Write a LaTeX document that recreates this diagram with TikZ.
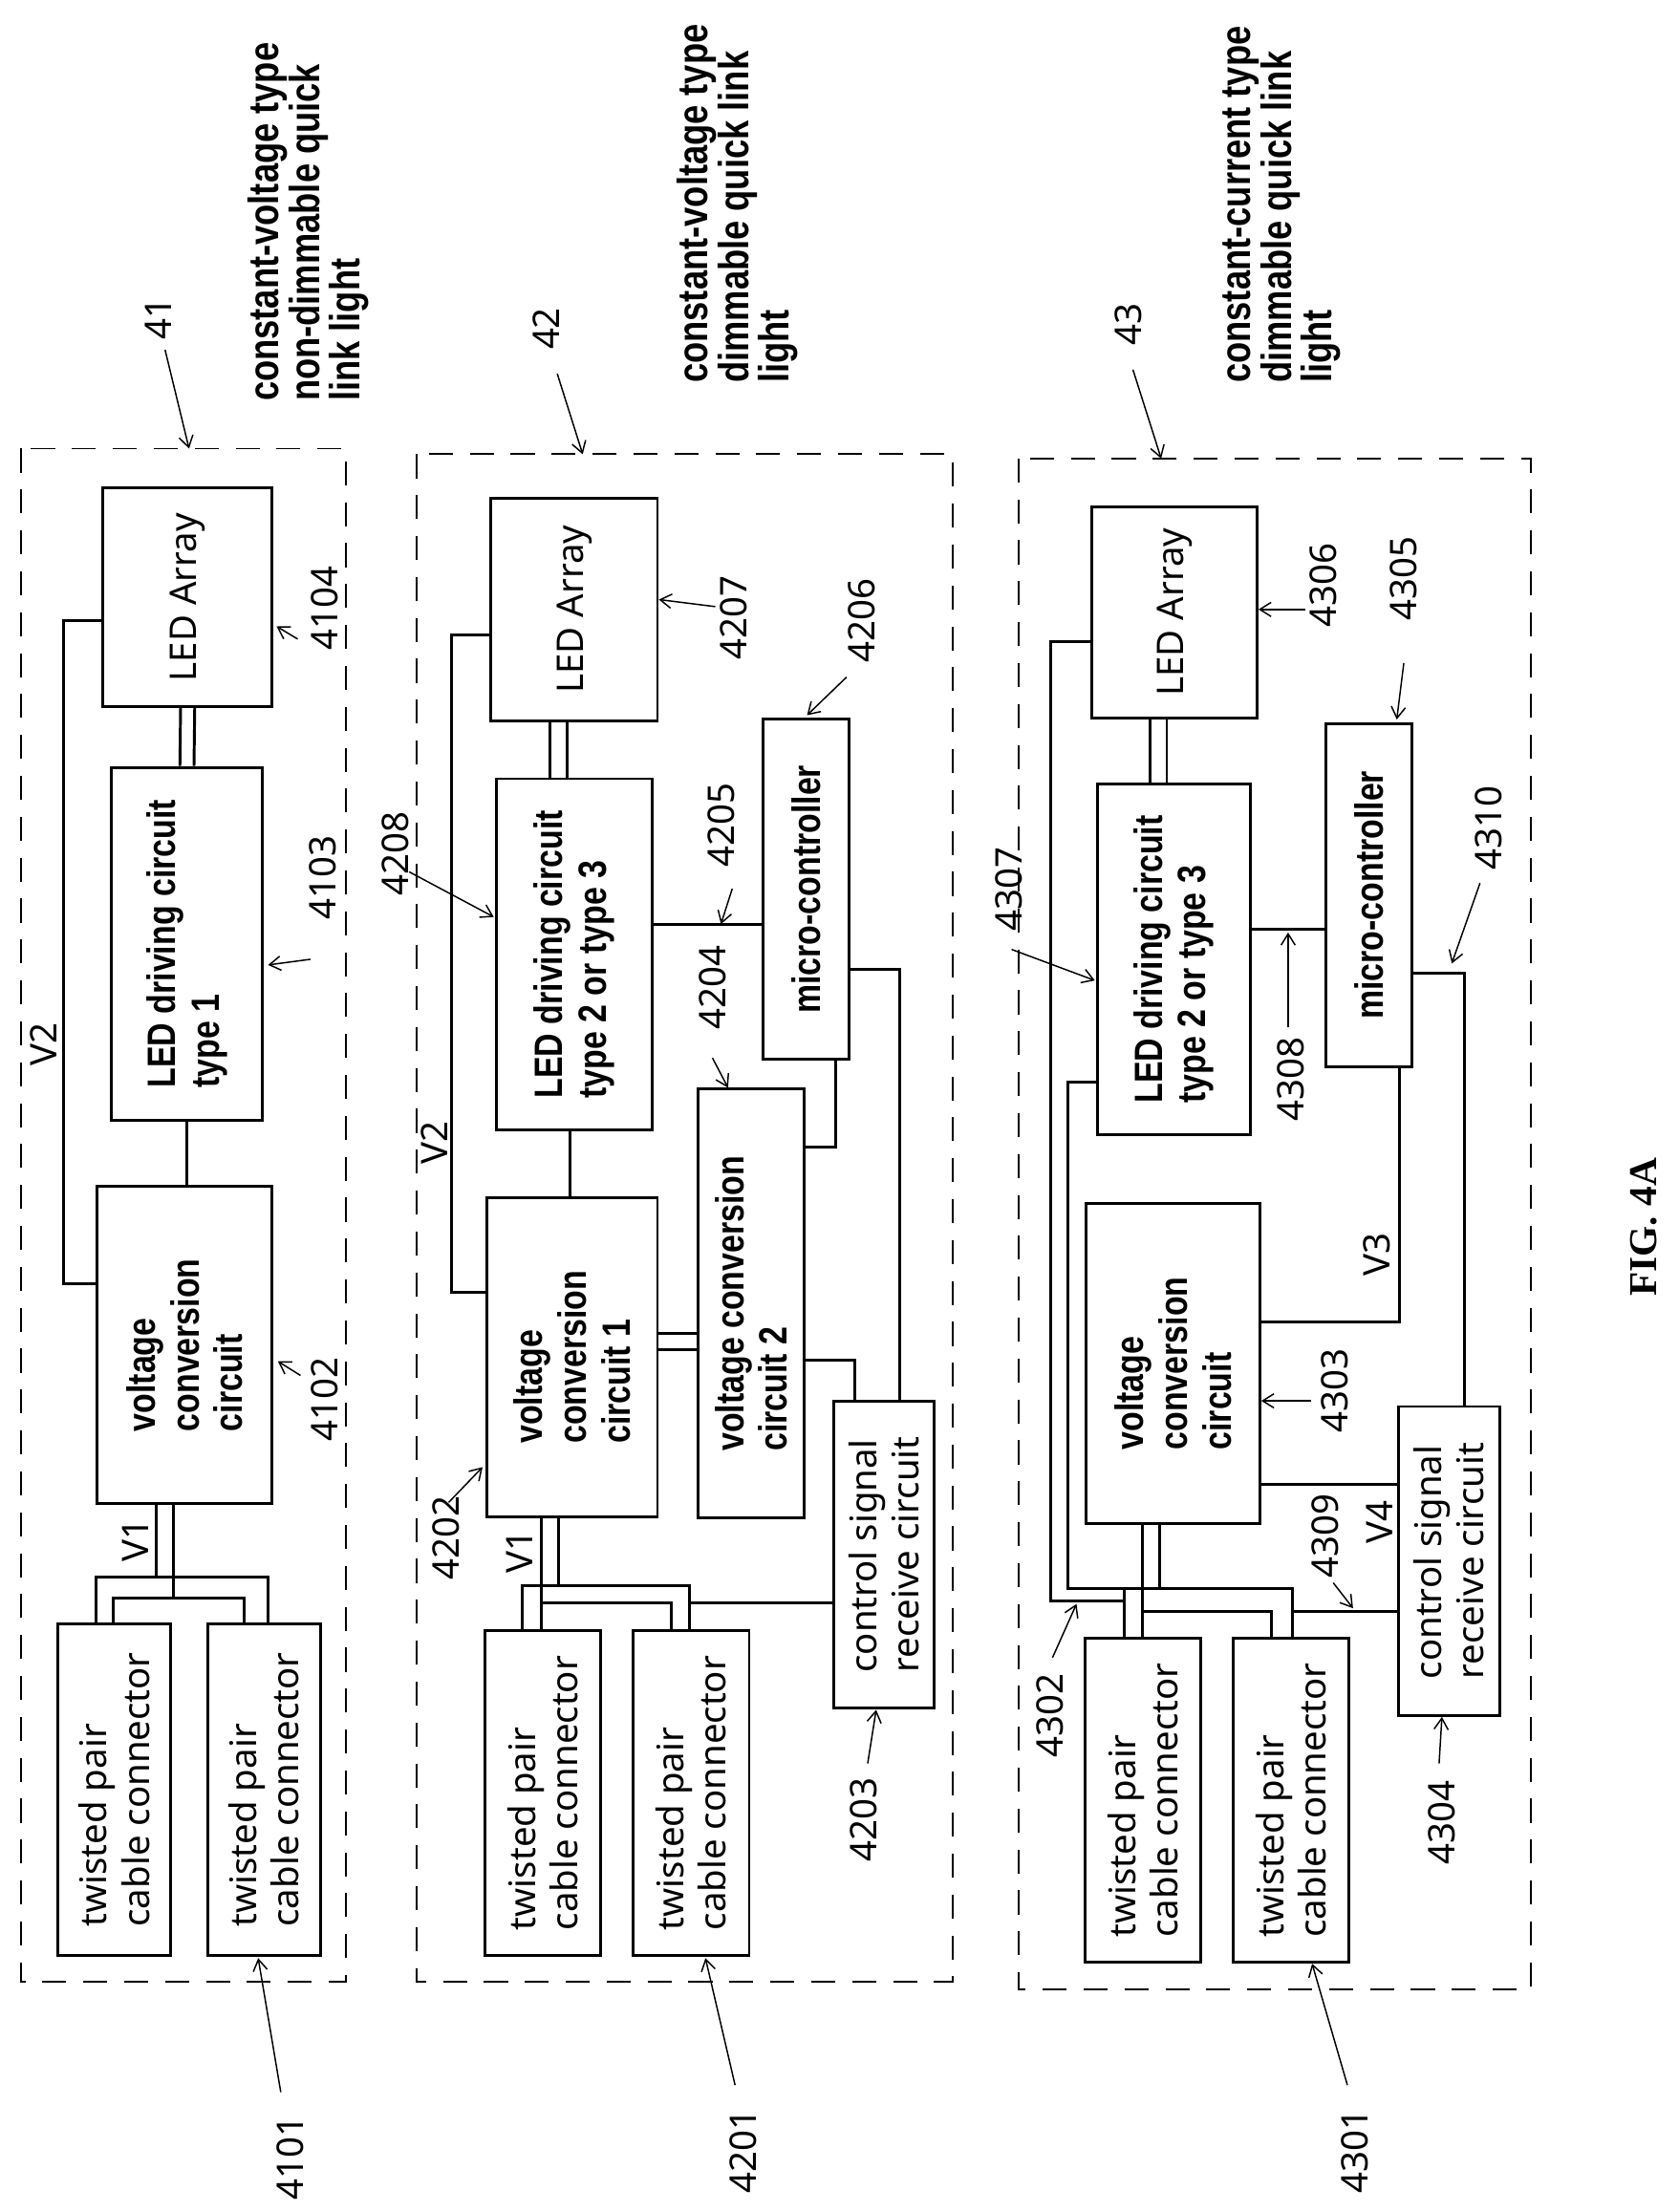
\documentclass[tikz,border=0pt]{standalone}
\usepackage{fontspec}
\setmainfont{Noto Sans}
\newfontfamily\bfc{Liberation Sans}[FakeStretch=0.82]
\newfontfamily\serifb{Liberation Serif}
\usetikzlibrary{calc,arrows.meta}
\begin{document}
\begin{tikzpicture}[x=1pt,y=-1pt,
 box/.style={draw,line width=2pt,inner sep=0pt},
 txt/.style={rotate=90,align=left,font=\fontsize{26}{30}\selectfont},
 btxt/.style={rotate=90,align=left,font=\fontsize{28}{31}\selectfont\bfc\bfseries},
 lbl/.style={rotate=90,font=\fontsize{26}{28}\selectfont},
 ttl/.style={rotate=90,align=left,anchor=north west,font=\fontsize{30}{25}\selectfont\bfc\bfseries},
 dbox/.style={draw,line width=1.3pt,dash pattern=on 17pt off 12pt},
 w/.style={line width=2pt},
 ar/.style={line width=1pt,-{Straight Barb[length=8pt,width=10pt]}}]
\useasboundingbox (0,0) rectangle (1190,1568);
% ---------- panel 41
\draw[dbox] (15,318) rectangle (245,1405);
\node[box,minimum width=120,minimum height=155,anchor=north west] (a4) at (72,345) {}; \node[txt] at (a4) {LED Array};
\node[box,minimum width=107,minimum height=250,anchor=north west] (a3) at (78,543) {}; \node[btxt] at (a3) {LED driving circuit\\type 1};
\node[box,minimum width=124,minimum height=225,anchor=north west] (a2) at (68,840) {}; \node[btxt] at (a2) {voltage\\conversion\\circuit};
\node[box,minimum width=80,minimum height=235,anchor=north west] (a1a) at (40,1150) {}; \node[txt] at (a1a) {twisted pair\\cable connector};
\node[box,minimum width=80,minimum height=235,anchor=north west] (a1b) at (146,1150) {}; \node[txt] at (a1b) {twisted pair\\cable connector};
\draw[w] ([xshift=-5]a3.north) -- ([xshift=-5]a4.south); \draw[w] ([xshift=5]a3.north) -- ([xshift=5]a4.south);
\draw[w] (a3.south) -- (a2.north-|a3.south);
\draw[w] (a2.west|-0,910) -- (45,910) -- (45,440) -- (a4.west|-0,440);
\node[lbl] at (31,740) {V2};
\draw[w] (111,1065) -- (111,1118); \draw[w] (123,1065) -- (123,1133);
\draw[w] (68,1150) -- (68,1118) -- (190,1118) -- (190,1150);
\draw[w] (80,1150) -- (80,1133) -- (173,1133) -- (173,1150);
\node[lbl] at (96,1092) {V1};
\node[lbl] at (230,431) {4104}; \draw[ar] (211,453) -- (196,444);
\node[lbl] at (229,622) {4103}; \draw[ar] (220,680) -- (190,684);
\node[lbl] at (230,992) {4102}; \draw[ar] (213,975) -- (197,965);
\node[lbl] at (206,1530) {4101}; \draw[ar] (199,1483) -- (183,1388);
\node[lbl] at (112,226) {41}; \draw[ar] (117,248) -- (134,318);
\node[ttl] at (172,288) {constant-voltage type\\non-dimmable quick\\link light};
% ---------- panel 42
\draw[dbox] (295,322) rectangle (675,1405);
\node[box,minimum width=118,minimum height=158,anchor=north west] (b7) at (347,352) {}; \node[txt] at (b7) {LED Array};
\node[box,minimum width=110,minimum height=249,anchor=north west] (b8) at (351,551) {}; \node[btxt] at (b8) {LED driving circuit\\type 2 or type 3};
\node[box,minimum width=61,minimum height=241,anchor=north west] (b6) at (540,509) {}; \node[btxt] at (b6) {micro-controller};
\node[box,minimum width=121,minimum height=226,anchor=north west] (b2) at (344,848) {}; \node[btxt] at (b2) {voltage\\conversion\\circuit 1};
\node[box,minimum width=75,minimum height=304,anchor=north west] (b4) at (494,771) {}; \node[btxt] at (b4) {voltage conversion\\circuit 2};
\node[box,minimum width=71,minimum height=218,anchor=north west] (b3) at (590,992) {}; \node[txt] at (b3) {control signal\\receive circuit};
\node[box,minimum width=82,minimum height=230,anchor=north west] (b1a) at (343,1155) {}; \node[txt] at (b1a) {twisted pair\\cable connector};
\node[box,minimum width=82,minimum height=230,anchor=north west] (b1b) at (448,1155) {}; \node[txt] at (b1b) {twisted pair\\cable connector};
\draw[w] (390,551) -- (390,510); \draw[w] (402,551) -- (402,510);
\draw[w] (404,800) -- (404,848);
\draw[w] (b2.west|-0,916) -- (320,916) -- (320,450) -- (b7.west|-0,450);
\node[lbl] at (308,810) {V2};
\draw[w] (b8.east|-0,655) -- (b6.west|-0,655);
\draw[w] (b2.east|-0,945) -- (b4.west|-0,945); \draw[w] (b2.east|-0,957) -- (b4.west|-0,957);
\draw[w] (b4.east|-0,813) -- (592,813) -- (592,750);
\draw[w] (b4.east|-0,964) -- (606,964) -- (606,992);
\draw[w] (b6.east|-0,687) -- (638,687) -- (638,992);
\draw[w] (384,1074) -- (384,1136); \draw[w] (396,1074) -- (396,1124);
\draw[w] (370,1155) -- (370,1124) -- (489,1124) -- (489,1155);
\draw[w] (384,1155) -- (384,1136) -- (476,1136) -- (476,1155);
\draw[w] (489,1136) -- (b3.west|-0,1136);
\node[lbl] at (368,1100) {V1};
\node[lbl] at (520,438) {4207}; \draw[ar] (507,430) -- (467,425);
\node[lbl] at (611,440) {4206}; \draw[ar] (600,480) -- (572,507);
\node[lbl] at (511,585) {4205}; \draw[ar] (519,630) -- (511,655);
\node[lbl] at (505,700) {4204}; \draw[ar] (505,750) -- (516,771);
\node[lbl] at (280,605) {4208}; \draw[ar] (290,618) -- (350,650);
\node[lbl] at (316,1090) {4202}; \draw[ar] (318,1065) -- (342,1040);
\node[lbl] at (612,1290) {4203}; \draw[ar] (615,1250) -- (621,1212);
\node[lbl] at (527,1525) {4201}; \draw[ar] (521,1478) -- (500,1388);
\node[lbl] at (387,233) {42}; \draw[ar] (395,265) -- (413,322);
\node[ttl] at (476,275) {constant-voltage type\\dimmable quick link\\light};
% ---------- panel 43
\draw[dbox] (722,325) rectangle (1085,1410);
\node[box,minimum width=117,minimum height=150,anchor=north west] (c6) at (773,358) {}; \node[txt] at (c6) {LED Array};
\node[box,minimum width=108,minimum height=248,anchor=north west] (c7) at (777,555) {}; \node[btxt] at (c7) {LED driving circuit\\type 2 or type 3};
\node[box,minimum width=61,minimum height=243,anchor=north west] (c5) at (939,512) {}; \node[btxt] at (c5) {micro-controller};
\node[box,minimum width=123,minimum height=227,anchor=north west] (c3) at (769,852) {}; \node[btxt] at (c3) {voltage\\conversion\\circuit};
\node[box,minimum width=72,minimum height=219,anchor=north west] (c4) at (990,996) {}; \node[txt] at (c4) {control signal\\receive circuit};
\node[box,minimum width=82,minimum height=230,anchor=north west] (c1a) at (768,1160) {}; \node[txt] at (c1a) {twisted pair\\cable connector};
\node[box,minimum width=82,minimum height=230,anchor=north west] (c1b) at (873,1160) {}; \node[txt] at (c1b) {twisted pair\\cable connector};
\draw[w] (815,555) -- (815,508); \draw[w] (827,555) -- (827,508);
\draw[w] (c6.west|-0,455) -- (745,455) -- (745,1135) -- (797,1135);
\draw[w] (c7.west|-0,767) -- (757,767) -- (757,1126) -- (810,1126);
\draw[w] (c7.east|-0,659) -- (c5.west|-0,659);
\draw[w] (992,755) -- (992,937) -- (c3.east|-0,937);
\node[lbl] at (976,889) {V3};
\draw[w] (c5.east|-0,690) -- (1038,690) -- (1038,996);
\draw[w] (c3.east|-0,1052) -- (c4.west|-0,1052);
\node[lbl] at (978,1079) {V4};
\draw[w] (810,1079) -- (810,1160); \draw[w] (822,1079) -- (822,1126);
\draw[w] (797,1160) -- (797,1126) -- (916,1126) -- (916,1160);
\draw[w] (810,1142) -- (901,1142) -- (901,1160);
\draw[w] (916,1142) -- (c4.west|-0,1142);
\node[lbl] at (938,415) {4306}; \draw[ar] (925,432) -- (892,432);
\node[lbl] at (995,410) {4305}; \draw[ar] (995,470) -- (990,510);
\node[lbl] at (1055,587) {4310}; \draw[ar] (1049,626) -- (1029,683);
\node[lbl] at (715,630) {4307}; \draw[ar] (717,673) -- (776,695);
\node[lbl] at (915,765) {4308}; \draw[ar] (913,728) -- (913,661);
\node[lbl] at (946,986) {4303}; \draw[ar] (929,993) -- (894,993);
\node[lbl] at (939,1089) {4309}; \draw[ar] (945,1122) -- (959,1140);
\node[lbl] at (744,1216) {4302}; \draw[ar] (746,1175) -- (763,1137);
\node[lbl] at (1022,1292) {4304}; \draw[ar] (1020,1250) -- (1022,1217);
\node[lbl] at (960,1525) {4301}; \draw[ar] (955,1478) -- (930,1392);
\node[lbl] at (800,230) {43}; \draw[ar] (803,262) -- (823,325);
\node[ttl] at (863,275) {constant-current type\\dimmable quick link\\light};
\node[rotate=90,font=\fontsize{28}{32}\selectfont\serifb\bfseries] at (1165,870) {FIG. 4A};
\end{tikzpicture}
\end{document}
